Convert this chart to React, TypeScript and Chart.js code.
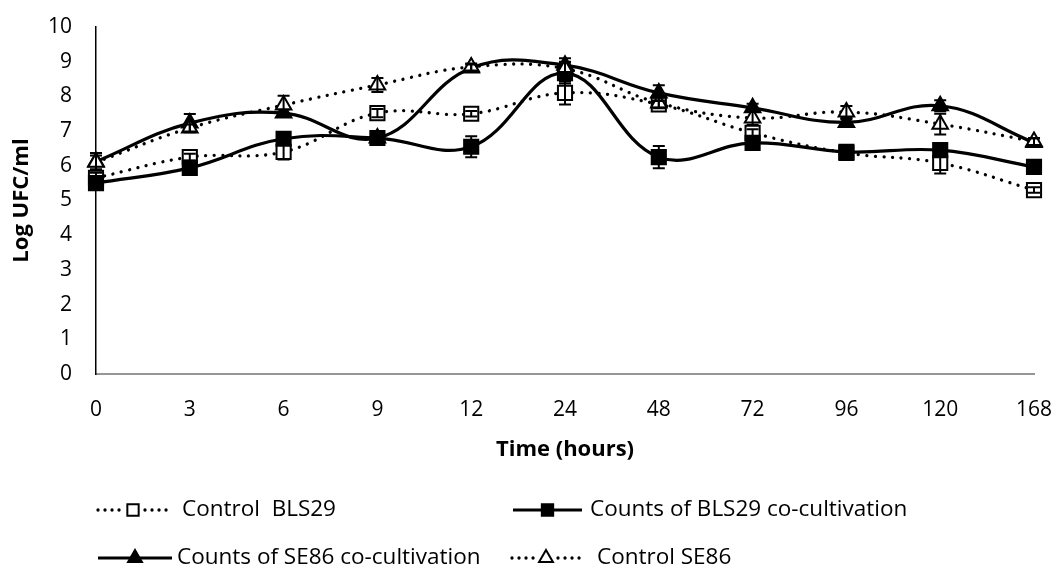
import React, { useEffect, useRef } from "react";
import { Chart, registerables } from "chart.js";

Chart.register(...registerables);

// ---------------- data ----------------
const timeLabels = ["0", "3", "6", "9", "12", "24", "48", "72", "96", "120", "168"];

const controlBLS29 = [5.65, 6.25, 6.4, 7.52, 7.5, 8.1, 7.77, 6.95, 6.37, 6.08, 5.3];
const controlBLS29Err = [0.15, 0.1, 0.22, 0.12, 0.08, 0.33, 0.1, 0.1, 0.06, 0.3, 0.08];

const coBLS29 = [5.5, 5.94, 6.78, 6.8, 6.55, 8.67, 6.25, 6.66, 6.4, 6.45, 5.97];
const coBLS29Err = [0.2, 0.1, 0.1, 0.2, 0.3, 0.3, 0.32, 0.1, 0.08, 0.1, 0.1];

const coSE86 = [6.12, 7.23, 7.52, 6.8, 8.82, 8.9, 8.1, 7.67, 7.25, 7.73, 6.67];
const coSE86Err = [0.25, 0.26, 0.1, 0.1, 0.1, 0.2, 0.22, 0.12, 0.1, 0.16, 0.12];

const controlSE86 = [6.1, 7.09, 7.75, 8.33, 8.85, 8.8, 7.81, 7.38, 7.55, 7.2, 6.7];
const controlSE86Err = [0.2, 0.1, 0.27, 0.2, 0.1, 0.2, 0.15, 0.2, 0.17, 0.3, 0.1];

const seriesNames = [
  "Control  BLS29",
  "Counts of BLS29 co-cultivation",
  "Counts of SE86 co-cultivation",
  "Control SE86",
];

const yMin = 0;
const yMax = 10;

// ---------------- styling ----------------
const FONT = "'Open Sans', 'Noto Sans', sans-serif";
const DOT_DASH = [0.01, 8.6];

const errorBarPlugin = {
  id: "errorBars",
  afterDatasetsDraw(chart: any) {
    const ctx = chart.ctx;
    const yScale = chart.scales.y;
    chart.data.datasets.forEach((ds: any, i: number) => {
      const meta = chart.getDatasetMeta(i);
      const errs: number[] = ds.errors || [];
      ctx.save();
      ctx.strokeStyle = "#000";
      ctx.lineWidth = 2;
      ctx.setLineDash([]);
      meta.data.forEach((pt: any, j: number) => {
        const v = ds.data[j];
        const e = errs[j] || 0;
        const top = yScale.getPixelForValue(v + e);
        const bot = yScale.getPixelForValue(v - e);
        const x = pt.x;
        const cap = 6;
        ctx.beginPath();
        ctx.moveTo(x, top);
        ctx.lineTo(x, bot);
        ctx.moveTo(x - cap, top);
        ctx.lineTo(x + cap, top);
        ctx.moveTo(x - cap, bot);
        ctx.lineTo(x + cap, bot);
        ctx.stroke();
      });
      ctx.restore();
    });
  },
};

function drawMarker(ctx: CanvasRenderingContext2D, style: string, filled: boolean, x: number, y: number, r: number) {
  ctx.save();
  ctx.setLineDash([]);
  ctx.lineWidth = 2;
  ctx.strokeStyle = "#000";
  ctx.fillStyle = filled ? "#000" : "#fff";
  ctx.beginPath();
  if (style === "rect") {
    const s = r * Math.SQRT1_2;
    ctx.rect(x - s, y - s, 2 * s, 2 * s);
  } else {
    ctx.moveTo(x, y - r);
    ctx.lineTo(x - 0.866 * r, y + 0.5 * r);
    ctx.lineTo(x + 0.866 * r, y + 0.5 * r);
    ctx.closePath();
  }
  ctx.fill();
  ctx.stroke();
  ctx.restore();
}

const legendLayout = [
  { ds: 0, x0: 98, x1: 168, tx: 182, row: 0 },
  { ds: 1, x0: 513, x1: 582, tx: 590, row: 0 },
  { ds: 2, x0: 98, x1: 172, tx: 177, row: 1 },
  { ds: 3, x0: 512, x1: 580, tx: 597, row: 1 },
];

const annotationsPlugin = {
  id: "titlesAndLegend",
  afterDraw(chart: any) {
    const ctx = chart.ctx;
    const area = chart.chartArea;
    ctx.save();
    ctx.fillStyle = "#000";
    // x axis title
    ctx.font = `bold 22px ${FONT}`;
    ctx.textAlign = "center";
    ctx.textBaseline = "middle";
    ctx.fillText("Time (hours)", (area.left + area.right) / 2, area.bottom + 76);
    // y axis title
    ctx.save();
    ctx.translate(22, (area.top + area.bottom) / 2);
    ctx.rotate(-Math.PI / 2);
    ctx.fillText("Log UFC/ml", 0, 0);
    ctx.restore();

    // legend
    const rowY = [area.bottom + 136, area.bottom + 184];
    ctx.font = `22.5px ${FONT}`;
    ctx.textAlign = "left";
    legendLayout.forEach((item) => {
      const ds = chart.data.datasets[item.ds];
      const y = rowY[item.row];
      const mid = (item.x0 + item.x1) / 2;
      ctx.save();
      ctx.strokeStyle = "#000";
      ctx.lineWidth = ds.borderWidth;
      ctx.lineCap = ds.borderCapStyle || "butt";
      ctx.setLineDash(ds.borderDash && ds.borderDash.length ? [0.01, 7] : []);
      ctx.beginPath();
      if (ds.borderDash && ds.borderDash.length) {
        ctx.moveTo(item.x0, y);
        ctx.lineTo(mid - 10, y);
        ctx.moveTo(mid + 12, y);
        ctx.lineTo(item.x1, y);
      } else {
        ctx.moveTo(item.x0, y);
        ctx.lineTo(item.x1, y);
      }
      ctx.stroke();
      ctx.restore();
      drawMarker(ctx, ds.pointStyle, ds.pointBackgroundColor === "#000", mid, y, ds.pointStyle === "rect" ? 8 : 8);
      ctx.fillStyle = "#000";
      ctx.fillText(seriesNames[item.ds], item.tx, y);
    });
    ctx.restore();
  },
};

export default function App() {
  const canvasRef = useRef<HTMLCanvasElement | null>(null);

  useEffect(() => {
    document.body.style.margin = "0";
    const canvas = canvasRef.current;
    if (!canvas) return;

    const makeDs = (
      label: string,
      data: number[],
      errors: number[],
      dotted: boolean,
      pointStyle: string,
      filled: boolean,
      order: number
    ) => ({
      label,
      data,
      errors,
      order,
      borderColor: "#000",
      borderWidth: dotted ? 3.3 : 3.2,
      borderDash: dotted ? DOT_DASH : [],
      borderCapStyle: dotted ? "round" : "butt",
      tension: 0.4,
      fill: false,
      pointStyle,
      pointRadius: pointStyle === "rect" ? 10 : 9,
      pointBorderWidth: 2,
      pointBorderColor: "#000",
      pointBackgroundColor: filled ? "#000" : "#fff",
    });

    const chart = new Chart(canvas, {
      type: "line",
      data: {
        labels: timeLabels,
        datasets: [
          makeDs(seriesNames[0], controlBLS29, controlBLS29Err, true, "rect", false, 3),
          makeDs(seriesNames[1], coBLS29, coBLS29Err, false, "rect", true, 2),
          makeDs(seriesNames[2], coSE86, coSE86Err, false, "triangle", true, 1),
          makeDs(seriesNames[3], controlSE86, controlSE86Err, true, "triangle", false, 0),
        ] as any,
      },
      options: {
        responsive: false,
        animation: false,
        layout: { padding: { left: 0, right: 25, top: 27, bottom: 0 } },
        plugins: {
          legend: { display: false },
          tooltip: { enabled: false },
          title: { display: false },
        },
        scales: {
          x: {
            type: "category",
            offset: false,
            grid: { display: false, drawTicks: false },
            border: { display: true, color: "#969696", width: 2 },
            ticks: {
              color: "#000",
              font: { family: FONT, size: 21 },
              padding: 23,
              maxRotation: 0,
              autoSkip: false,
            },
            afterFit: (scale: any) => {
              scale.height = 198;
              scale.paddingLeft = 0;
              scale.paddingRight = 0;
            },
          },
          y: {
            min: yMin,
            max: yMax,
            grid: { display: false, drawTicks: false },
            border: { display: true, color: "#000", width: 1.5 },
            ticks: {
              stepSize: 1,
              color: "#000",
              font: { family: FONT, size: 21 },
              padding: 24,
            },
            afterFit: (scale: any) => {
              scale.width = 96;
              scale.paddingTop = 0;
              scale.paddingBottom = 0;
            },
          },
        },
      },
      plugins: [errorBarPlugin, annotationsPlugin],
    } as any);

    return () => chart.destroy();
  }, []);

  return (
    <canvas
      ref={canvasRef}
      width={1059}
      height={572}
      style={{ display: "block", width: 1059, height: 572 }}
    />
  );
}
